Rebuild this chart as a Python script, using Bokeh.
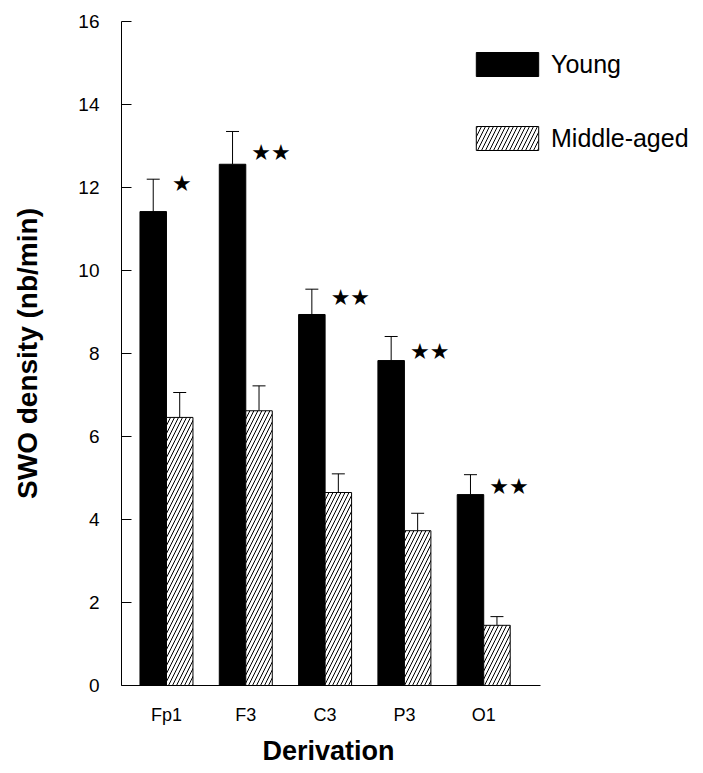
from bokeh.plotting import figure
from bokeh.models import (Range1d, FixedTicker, Whisker, TeeHead, ColumnDataSource,
                          Legend, LegendItem, Title)
from bokeh.core.properties import value
from bokeh.embed import file_html
from bokeh.resources import INLINE

# ---- data ----
derivations = ["Fp1", "F3", "C3", "P3", "O1"]
young = [11.42, 12.56, 8.94, 7.83, 4.60]
young_err = [0.78, 0.79, 0.61, 0.58, 0.48]
middle = [6.46, 6.62, 4.65, 3.73, 1.45]
middle_err = [0.60, 0.60, 0.45, 0.42, 0.21]
sig_marks = ["★", "★★", "★★", "★★", "★★"]
sig_levels = [12.1, 12.85, 9.35, 8.05, 4.8]
y_ticks = [0, 2, 4, 6, 8, 10, 12, 14, 16]

FONT = "Liberation Sans"
idx = list(range(len(derivations)))
bw = 0.334
x_lo, x_axis_end, x_hi = -0.567, 4.716, 6.771

src_y = ColumnDataSource(dict(
    x=[i - bw / 2 for i in idx], top=young,
    up=[a + b for a, b in zip(young, young_err)]))
src_m = ColumnDataSource(dict(
    x=[i + bw / 2 for i in idx], top=middle,
    up=[a + b for a, b in zip(middle, middle_err)]))
src_s = ColumnDataSource(dict(
    x=[i + 0.07 for i in idx], y=sig_levels, t=sig_marks))

p = figure(width=703, height=773, output_backend="svg", toolbar_location=None,
           x_range=Range1d(x_lo, x_hi), y_range=Range1d(0, 16),
           min_border_left=121, min_border_right=0, min_border_top=21,
           min_border_bottom=88)
p.outline_line_color = None
p.xgrid.visible = False
p.ygrid.visible = False
p.background_fill_color = "white"

r_young = p.vbar(x="x", top="top", bottom=0, width=bw, source=src_y,
                 fill_color="black", line_color="black", line_width=1)
r_mid = p.vbar(x="x", top="top", bottom=0, width=bw, source=src_m,
               fill_color="white", line_color="black", line_width=1,
               hatch_pattern="/", hatch_color="black", hatch_scale=8,
               hatch_weight=1)

for src in (src_y, src_m):
    w = Whisker(base="x", lower="top", upper="up", source=src,
                dimension="height", line_color="black", line_width=1,
                lower_head=None,
                upper_head=TeeHead(size=13, line_color="black", line_width=1))
    p.add_layout(w)

p.text(x="x", y="y", text="t", source=src_s, text_font=value("DejaVu Sans"),
       text_font_size="22px", text_align="left", text_baseline="middle",
       text_color="black")

# axes
p.yaxis.ticker = FixedTicker(ticks=y_ticks)
p.yaxis.major_tick_in = 10
p.yaxis.major_tick_out = 0
p.yaxis.minor_tick_line_color = None
p.yaxis.major_label_standoff = 22
p.yaxis.major_label_text_font = FONT
p.yaxis.major_label_text_font_size = "19px"
p.yaxis.major_label_text_color = "black"
p.yaxis.axis_label = "SWO density (nb/min)"
p.yaxis.axis_label_text_font = FONT
p.yaxis.axis_label_text_font_style = "bold"
p.yaxis.axis_label_text_font_size = "28px"
p.yaxis.axis_label_text_color = "black"
p.yaxis.axis_label_standoff = 32
p.yaxis.axis_line_color = "black"
p.yaxis.major_tick_line_color = "black"

p.xaxis.ticker = FixedTicker(ticks=idx)
p.xaxis.bounds = (x_lo, x_axis_end)
p.xaxis.major_label_overrides = {i: d for i, d in zip(idx, derivations)}
p.xaxis.major_tick_in = 0
p.xaxis.major_tick_out = 0
p.xaxis.minor_tick_line_color = None
p.xaxis.major_label_standoff = 19
p.xaxis.major_label_text_font = FONT
p.xaxis.major_label_text_font_size = "18px"
p.xaxis.major_label_text_color = "black"
p.xaxis.axis_line_color = "black"

# x-axis title, centred under the drawn axis rather than the whole frame
p.add_layout(Title(text="Derivation", align="left", offset=141,
                   text_font=FONT, text_font_style="bold",
                   text_font_size="27px", text_color="black",
                   standoff=13), "below")

legend = Legend(items=[LegendItem(label="Young", renderers=[r_young]),
                       LegendItem(label="Middle-aged", renderers=[r_mid])],
                location=(347, 532), orientation="vertical",
                glyph_width=78, glyph_height=30, label_height=30,
                label_standoff=5, spacing=44, padding=0, margin=0,
                border_line_color=None, background_fill_alpha=0,
                label_text_font=FONT, label_text_font_size="25px",
                label_text_color="black")
p.add_layout(legend)

open("out.html", "w").write(file_html(p, INLINE))
